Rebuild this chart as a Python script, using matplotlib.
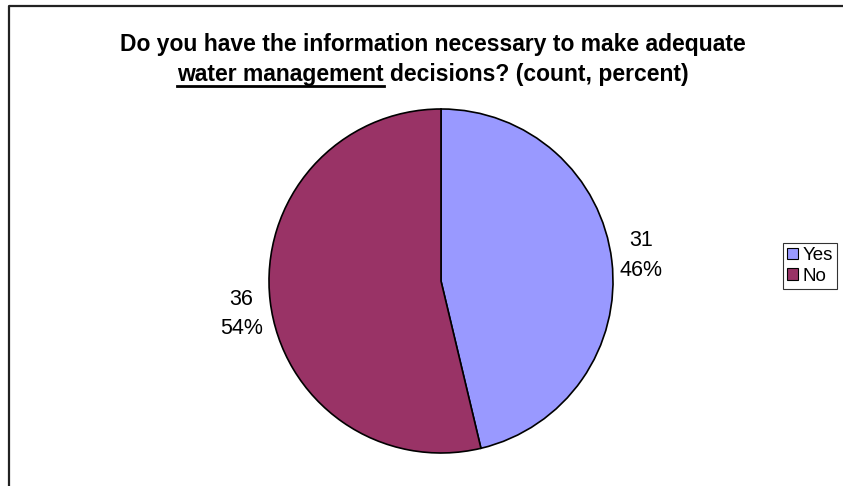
import matplotlib
matplotlib.use("Agg")
import matplotlib.pyplot as plt
from matplotlib.lines import Line2D
from matplotlib.patches import Patch
import numpy as np

labels = ["Yes", "No"]
counts = [31, 36]
colors = ["#9999FF", "#993366"]

title_line1 = "Do you have the information necessary to make adequate"
title_line2_u = "water management"
title_line2_rest = " decisions? (count, percent)"

plt.rcParams['font.family'] = ['Liberation Sans', 'DejaVu Sans']

W, H = 843, 486
TITLE_FS = 16.5
fig = plt.figure(figsize=(W / 100, H / 100), dpi=100)
fig.patch.set_facecolor("white")

# chart area border (left and top edges visible)
fig.add_artist(Line2D([9 / W, 9 / W, 1.0], [0.0, 1 - 6 / H, 1 - 6 / H],
                      transform=fig.transFigure, color="#222222", lw=1.6))

# pie axes: center (441, 281) px, radius 172 px
cx, cy, r = 441, 281, 172
ax = fig.add_axes([(cx - r) / W, (H - cy - r) / H, 2 * r / W, 2 * r / H])
total = sum(counts)
wedges, _ = ax.pie(counts, colors=colors, startangle=90, counterclock=False,
                   wedgeprops=dict(edgecolor="black", linewidth=1.2))
ax.set_xlim(-1, 1)
ax.set_ylim(-1, 1)
ax.set_aspect("equal")
ax.axis("off")

# data labels outside the slices, left-side ones sit a bit lower
angle = 90.0
for c in counts:
    sweep = 360.0 * c / total
    mid = np.deg2rad(angle - sweep / 2)
    x, y = 1.17 * np.cos(mid), 1.17 * np.sin(mid) + 0.01
    if x < 0:
        y -= 0.065
    ax.text(x, y, "%d\n%d%%" % (c, round(100.0 * c / total)),
            ha="center", va="center", fontsize=15.5, linespacing=1.55)
    angle -= sweep

# title, second line partly underlined
tx = 433 / W
fig.text(tx, 1 - 45 / H, title_line1, ha="center", va="center",
         fontsize=TITLE_FS, fontweight="bold")
t2 = fig.text(tx, 1 - 74 / H, title_line2_u + title_line2_rest, ha="center",
              va="center", fontsize=TITLE_FS, fontweight="bold")
fig.canvas.draw()
renderer = fig.canvas.get_renderer()
bb = t2.get_window_extent(renderer)
probe = fig.text(0, 0, title_line2_u, fontsize=TITLE_FS, fontweight="bold")
pw = probe.get_window_extent(renderer).width
probe.remove()
uy = (bb.y0 - 0.5) / H
fig.add_artist(Line2D([bb.x0 / W, (bb.x0 + pw) / W], [uy, uy],
                      transform=fig.transFigure, color="black", lw=2.0))

handles = [Patch(facecolor=c, edgecolor="black", linewidth=0.8) for c in colors]
leg = fig.legend(handles, labels, loc="center left",
                 bbox_to_anchor=(783 / W, 1 - 266 / H), fontsize=13.5,
                 frameon=True, fancybox=False, handlelength=0.6,
                 handleheight=0.6, handletextpad=0.25, borderpad=0.2,
                 labelspacing=0.2, borderaxespad=0)
leg.get_frame().set_edgecolor("black")
leg.get_frame().set_linewidth(0.8)

fig.savefig("out.png", dpi=100)
